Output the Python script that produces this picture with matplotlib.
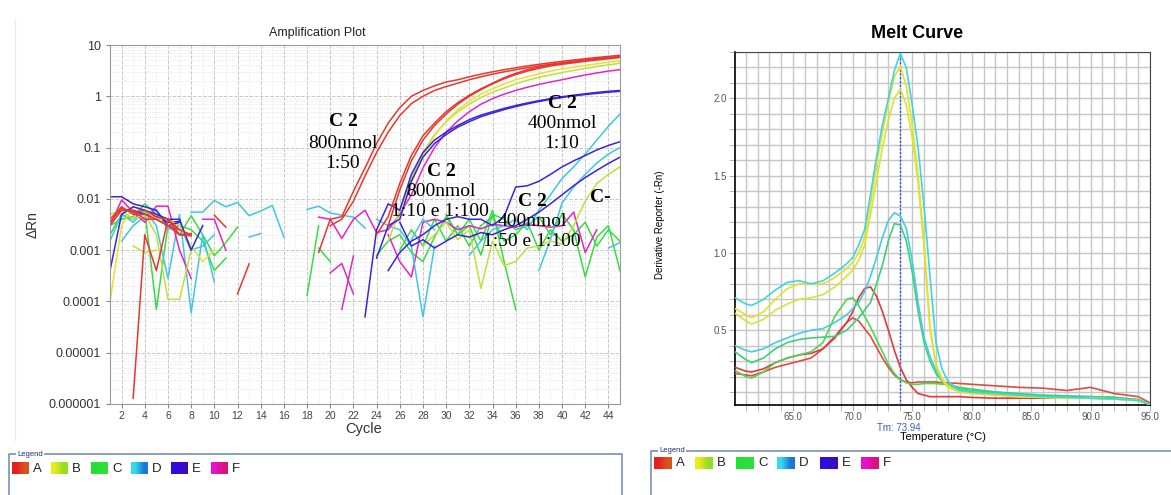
import matplotlib.pyplot as plt
import numpy as np
from matplotlib.colors import to_rgb
from matplotlib.ticker import MultipleLocator, LogLocator, NullFormatter

plt.rcParams['font.family'] = ['Liberation Sans', 'DejaVu Sans']

# ---------------- Amplification plot: delta Rn per cycle ----------------
# cycles that are missing from a trace had no positive value (gap in the log plot)
cycles = np.arange(1, 46)

red_a = {1: .004, 2: .007, 3: .005, 4: .005, 5: .004, 6: .003, 7: .0025, 8: .002,
         10: .0048, 11: .0028,
         19: .0009, 20: .004, 21: .0045, 22: .014, 23: .04, 24: .12, 25: .3, 26: .6,
         27: 1.0, 28: 1.3, 29: 1.6, 30: 1.9, 31: 2.1, 32: 2.4, 33: 2.7, 34: 3.0, 35: 3.3,
         36: 3.6, 37: 3.9, 38: 4.2, 39: 4.5, 40: 4.8, 41: 5.1, 42: 5.4, 43: 5.7, 44: 6.0, 45: 6.3}
red_b = {1: .003, 2: .006, 3: .006, 4: .004, 5: .004, 6: .003, 7: .002, 8: .0021,
         12: .00014, 13: .00054,
         20: .003, 21: .004, 22: .009, 23: .028, 24: .08, 25: .2, 26: .42, 27: .72,
         28: 1.0, 29: 1.3, 30: 1.55, 31: 1.8, 32: 2.1, 33: 2.4, 34: 2.7, 35: 3.0, 36: 3.3,
         37: 3.6, 38: 3.9, 39: 4.2, 40: 4.5, 41: 4.8, 42: 5.1, 43: 5.4, 44: 5.7, 45: 6.0}
red_c = {3: .0000013, 4: .002, 5: .0004, 6: .004, 7: .002, 8: .0019,
         24: .002, 25: .0045, 26: .02, 27: .07, 28: .17, 29: .3, 30: .5, 31: .75,
         32: 1.05, 33: 1.4, 34: 1.8, 35: 2.3, 36: 2.8, 37: 3.3, 38: 3.7, 39: 4.1,
         40: 4.4, 41: 4.7, 42: 5.0, 43: 5.3, 44: 5.6, 45: 5.9}
red_d = {1: .0035, 2: .0065, 3: .0055, 4: .006, 5: .0045, 6: .004, 7: .0025,
         25: .003, 26: .015, 27: .055, 28: .14, 29: .27, 30: .45, 31: .7, 32: 1.0,
         33: 1.35, 34: 1.75, 35: 2.2, 36: 2.65, 37: 3.1, 38: 3.5, 39: 3.9, 40: 4.2,
         41: 4.5, 42: 4.8, 43: 5.1, 44: 5.4, 45: 5.7}

yel_a = {1: .0001, 2: .003, 3: .007, 4: .006, 5: .004, 6: .004, 7: .003, 8: .0012, 9: .0006, 10: .001,
         26: .004, 27: .02, 28: .07, 29: .17, 30: .33, 31: .55, 32: .8, 33: 1.1, 34: 1.4,
         35: 1.75, 36: 2.1, 37: 2.4, 38: 2.75, 39: 3.1, 40: 3.4, 41: 3.7, 42: 4.0,
         43: 4.3, 44: 4.6, 45: 4.9}
yel_b = {1: .005, 2: .006, 3: .004, 4: .005, 5: .002, 6: .00011, 7: .00011, 8: .001,
         25: .0015, 26: .006, 27: .025, 28: .08, 29: .18, 30: .32, 31: .5, 32: .7,
         33: .95, 34: 1.2, 35: 1.45, 36: 1.75, 37: 2.05, 38: 2.35, 39: 2.6, 40: 2.9,
         41: 3.2, 42: 3.5, 43: 3.8, 44: 4.1, 45: 4.4}
lime_neg = {3: .0012, 4: .0009, 5: .001,
            28: .0012, 29: .002, 30: .0035, 31: .0016, 32: .0025, 33: .00018, 34: .0015,
            35: .0005, 36: .0006, 37: .0011, 38: .0012, 39: .0015, 40: .0013, 41: .003,
            42: .009, 43: .02, 44: .03, 45: .042}

grn_a = {1: .002, 2: .005, 3: .004, 4: .006, 5: .00007, 6: .003, 7: .002, 8: .0047,
         9: .002, 10: .00078, 11: .0014, 12: .0028,
         18: .00013, 19: .003,
         24: .0008, 25: .0015, 26: .002, 27: .0009, 28: .0006, 29: .0018, 30: .0045,
         31: .002, 32: .004, 33: .0015, 34: .006, 35: .0006, 36: .00007}
grn_b = {1: .003, 2: .004, 3: .0045, 4: .008, 5: .005, 6: .004, 7: .003, 8: .0025,
         9: .0015, 10: .0004, 11: .0007,
         19: .0011, 20: .0006,
         30: .005, 31: .002, 32: .003, 33: .0008, 34: .005, 35: .004, 36: .0025, 37: .003,
         38: .0045, 39: .002, 40: .005, 41: .0025, 42: .0003, 43: .0018, 44: .003, 45: .0004}
grn_c = {26: .001, 27: .0025, 28: .0012, 29: .004, 30: .0015, 31: .003, 32: .0012,
         33: .003, 34: .0045, 35: .0015, 36: .002, 37: .0035, 38: .001, 39: .0025,
         40: .0015, 41: .002, 42: .0035, 43: .0012, 44: .0025, 45: .0015}

cyn_a = {8: .0055, 9: .0055, 10: .0093, 11: .007, 12: .0085, 13: .0047, 14: .0058,
         15: .0074, 16: .0018,
         18: .0062, 19: .0072, 20: .0053, 21: .0048, 22: .0044, 23: .0027,
         44: .0011, 45: .0014}
cyn_b = {1: .0015, 2: .005, 3: .0035, 4: .006, 5: .003, 6: .00028, 7: .005, 8: .00006,
         9: .002, 10: .00024,
         13: .0018, 14: .0021,
         24: .004, 25: .003, 26: .0025, 27: .0012, 28: .00005, 29: .0012,
         38: .0004, 39: .0016, 40: .0083, 41: .017, 42: .03, 43: .05, 44: .075, 45: .1}
cyn_c = {2: .0015, 3: .003, 4: .0045, 5: .006, 6: .0025, 7: .003, 8: .001, 9: .0012, 10: .002,
         27: .0016, 28: .004, 29: .0025,
         32: .0008, 33: .0015, 34: .0025, 35: .003, 36: .004, 37: .0025, 38: .006,
         39: .012, 40: .025, 41: .042, 42: .075, 43: .14, 44: .26, 45: .45}

blu_a = {1: .011, 2: .011, 3: .008, 4: .007, 5: .006, 6: .003, 7: .0035,
         23: .00005, 24: .0025, 25: .008, 26: .006, 27: .03, 28: .08, 29: .14, 30: .2,
         31: .27, 32: .35, 33: .43, 34: .5, 35: .58, 36: .66, 37: .74, 38: .82, 39: .9,
         40: .98, 41: 1.05, 42: 1.12, 43: 1.19, 44: 1.25, 45: 1.3}
blu_b = {1: .0004, 2: .005, 3: .007, 4: .006, 5: .005, 6: .004, 7: .004, 8: .001, 9: .003,
         24: .0007, 25: .003, 26: .004, 27: .022, 28: .065, 29: .12, 30: .18, 31: .25,
         32: .32, 33: .4, 34: .47, 35: .55, 36: .63, 37: .71, 38: .79, 39: .87, 40: .95,
         41: 1.02, 42: 1.08, 43: 1.14, 44: 1.2, 45: 1.25}
blu_c = {25: .0004, 26: .0009, 27: .0015, 28: .002, 29: .003, 30: .004, 31: .0045,
         32: .004, 33: .004, 34: .003, 35: .0045, 36: .017, 37: .018, 38: .022, 39: .03,
         40: .042, 41: .055, 42: .07, 43: .09, 44: .11, 45: .13}
blu_d = {3: .006, 4: .005, 5: .0045, 6: .0035, 7: .0036,
         26: .0035, 27: .0012, 28: .0016, 29: .0011, 30: .0015, 31: .002, 32: .0018,
         33: .0022, 34: .002, 35: .0025, 36: .003, 37: .004, 38: .0055, 39: .008,
         40: .012, 41: .018, 42: .026, 43: .036, 44: .049, 45: .065}

mag_a = {1: .003, 2: .0095, 3: .0055, 4: .0035, 5: .0072, 6: .0072, 7: .001, 8: .00028,
         19: .0044, 20: .004, 21: .0017, 22: .004, 23: .006, 24: .0022, 25: .0025,
         26: .005, 27: .012, 28: .04, 29: .1, 30: .2, 31: .33, 32: .5, 33: .7, 34: .9,
         35: 1.1, 36: 1.3, 37: 1.5, 38: 1.7, 39: 1.9, 40: 2.1, 41: 2.35, 42: 2.6,
         43: 2.85, 44: 3.1, 45: 3.3}
mag_b = {9: .004, 10: .004, 11: .001,
         20: .00036, 21: .00055, 22: .00014,
         25: .002, 26: .0006, 27: .0003, 28: .0035, 29: .004, 30: .0035, 31: .0025,
         32: .003, 33: .0026, 34: .0032, 35: .003, 36: .0028, 37: .0032, 38: .003,
         39: .0028, 40: .003, 41: .0055, 42: .0009, 43: .0025}
mag_c = {21: .00007, 22: .00077}

amp_colors = {'red': '#e8362c', 'yellow': '#e6e22c', 'lime': '#bfe03a', 'green': '#36dc42',
              'cyan': '#40c6e4', 'blue': '#3a24d8', 'magenta': '#e424c4'}
amp_traces = [
    (grn_c, 'green'), (grn_b, 'green'), (grn_a, 'green'),
    (mag_c, 'magenta'), (mag_b, 'magenta'),
    (cyn_a, 'cyan'), (cyn_b, 'cyan'), (cyn_c, 'cyan'),
    (lime_neg, 'lime'),
    (blu_d, 'blue'), (blu_c, 'blue'),
    (mag_a, 'magenta'),
    (yel_b, 'lime'), (yel_a, 'yellow'),
    (blu_b, 'blue'), (blu_a, 'blue'),
    (red_d, 'red'), (red_c, 'red'), (red_b, 'red'), (red_a, 'red'),
]
amp_ytick_labels = ['0.000001', '0.00001', '0.0001', '0.001', '0.01', '0.1', '1', '10']

# ---------------- Melt curve: derivative reporter vs temperature ----------------
melt_temp = [60.1, 61, 61.5, 62.5, 63.5, 64.5, 65.5, 66.5, 67.5, 68.5,
             69.5, 70, 70.5, 71, 71.5, 72, 72.5, 73, 73.5, 74,
             74.5, 75, 75.5, 76, 76.5, 77, 77.5, 78, 79, 80,
             82, 84, 86, 88, 90, 92, 94, 95]
melt_d_high = [0.71, 0.67, 0.66, 0.70, 0.76, 0.81, 0.82, 0.80, 0.82, 0.87,
               0.93, 0.97, 1.05, 1.15, 1.38, 1.62, 1.83, 2.00, 2.18, 2.29,
               2.20, 1.96, 1.68, 1.30, 0.85, 0.42, 0.25, 0.17, 0.11, 0.10,
               0.09, 0.08, 0.07, 0.065, 0.06, 0.055, 0.045, 0.02]
melt_b_high = [0.64, 0.60, 0.58, 0.62, 0.70, 0.77, 0.80, 0.80, 0.80, 0.84,
               0.90, 0.94, 1.00, 1.10, 1.32, 1.56, 1.78, 1.97, 2.14, 2.21,
               2.08, 1.83, 1.50, 1.08, 0.52, 0.28, 0.19, 0.14, 0.10, 0.09,
               0.08, 0.07, 0.065, 0.06, 0.06, 0.055, 0.045, 0.02]
melt_b_low = [0.61, 0.56, 0.54, 0.57, 0.63, 0.67, 0.70, 0.71, 0.73, 0.78,
              0.85, 0.89, 0.95, 1.05, 1.25, 1.47, 1.68, 1.86, 2.00, 2.06,
              1.96, 1.75, 1.45, 1.03, 0.50, 0.27, 0.18, 0.13, 0.10, 0.09,
              0.08, 0.07, 0.065, 0.06, 0.06, 0.055, 0.045, 0.02]
melt_d_mid = [0.40, 0.37, 0.36, 0.38, 0.42, 0.45, 0.48, 0.50, 0.51, 0.55,
              0.60, 0.64, 0.68, 0.75, 0.85, 0.97, 1.10, 1.21, 1.26, 1.24,
              1.16, 0.95, 0.68, 0.45, 0.33, 0.24, 0.18, 0.14, 0.11, 0.10,
              0.09, 0.08, 0.07, 0.06, 0.06, 0.055, 0.045, 0.02]
melt_c_mid = [0.36, 0.31, 0.29, 0.32, 0.38, 0.42, 0.44, 0.45, 0.455, 0.46,
              0.50, 0.54, 0.58, 0.63, 0.68, 0.80, 0.92, 1.08, 1.19, 1.18,
              1.08, 0.88, 0.62, 0.42, 0.30, 0.22, 0.17, 0.14, 0.12, 0.11,
              0.10, 0.09, 0.08, 0.075, 0.07, 0.065, 0.05, 0.02]
melt_c_low = [0.24, 0.20, 0.19, 0.23, 0.29, 0.32, 0.34, 0.36, 0.42, 0.59,
              0.70, 0.71, 0.66, 0.59, 0.52, 0.44, 0.36, 0.28, 0.22, 0.18,
              0.16, 0.15, 0.15, 0.155, 0.155, 0.155, 0.15, 0.15, 0.13, 0.12,
              0.10, 0.08, 0.075, 0.07, 0.07, 0.065, 0.05, 0.02]
melt_a_high = [0.26, 0.235, 0.23, 0.25, 0.29, 0.32, 0.34, 0.35, 0.38, 0.45,
               0.55, 0.62, 0.71, 0.77, 0.78, 0.72, 0.62, 0.50, 0.37, 0.26,
               0.18, 0.13, 0.09, 0.08, 0.07, 0.07, 0.07, 0.07, 0.07, 0.065,
               0.06, 0.06, 0.06, 0.06, 0.065, 0.06, 0.05, 0.02]
melt_a_low = [0.22, 0.21, 0.205, 0.23, 0.26, 0.28, 0.30, 0.32, 0.38, 0.46,
              0.55, 0.58, 0.56, 0.51, 0.46, 0.39, 0.32, 0.26, 0.21, 0.18,
              0.165, 0.16, 0.165, 0.165, 0.165, 0.165, 0.16, 0.16, 0.155, 0.15,
              0.14, 0.13, 0.125, 0.11, 0.13, 0.09, 0.07, 0.03]
melt_traces = [(melt_a_low, '#e04a44'), (melt_a_high, '#e0383c'),
               (melt_c_low, '#4cd84c'), (melt_c_mid, '#3ccf7c'),
               (melt_d_mid, '#44cce0'), (melt_b_low, '#d4e43a'),
               (melt_b_high, '#e6e02a'), (melt_d_high, '#3ed4e4')]
tm_value = 73.94

legend_labels = ['A', 'B', 'C', 'D', 'E', 'F']
legend_grads = [('#e81e1e', '#d8541e'), ('#eaea20', '#8ee020'), ('#22e03a', '#2ee03a'),
                ('#34dae8', '#1c78d8'), ('#2a10e0', '#3a0cc0'), ('#e412d0', '#dc1080')]

W, H = 1171, 495
fig = plt.figure(figsize=(W / 100, H / 100), dpi=100)

# ---- amplification axes ----
ax1 = fig.add_axes([110 / W, 1 - 404 / H, 510 / W, 359 / H])
for trace, cname in amp_traces:
    dRn = np.array([trace.get(c, np.nan) for c in cycles])
    ax1.plot(cycles, dRn, color=amp_colors[cname], lw=1.1)
ax1.set_yscale('log')
ax1.set_ylim(1e-6, 10)
ax1.set_xlim(1, 45)
ax1.set_xticks(range(2, 45, 2))
ax1.xaxis.set_minor_locator(MultipleLocator(1))
ax1.set_yticks(10.0 ** np.arange(-6, 2))
ax1.set_yticklabels(amp_ytick_labels)
ax1.yaxis.set_minor_locator(LogLocator(base=10, subs=np.arange(2, 10)))
ax1.yaxis.set_minor_formatter(NullFormatter())
ax1.grid(which='major', color='#c8c8c8', ls='--', lw=0.7)
ax1.grid(which='minor', color='#dedede', ls=':', lw=0.6)
ax1.set_axisbelow(True)
ax1.tick_params(which='minor', length=0)
ax1.tick_params(axis='y', which='major', length=3, labelsize=9, labelcolor='#333333', color='#888888')
ax1.tick_params(axis='x', which='major', length=3, pad=2, labelsize=7.5, labelcolor='#444444',
                color='#888888')
for s in ax1.spines.values():
    s.set_color('#9a9a9a')

# ---- melt curve axes ----
ax2 = fig.add_axes([735 / W, 1 - 405 / H, 415 / W, 353 / H])
ax2.axvline(tm_value, color='#3050d8', ls=(0, (1.5, 1.2)), lw=1.0, zorder=3)
for vals, col in melt_traces:
    ax2.plot(melt_temp, vals, color=col, lw=1.2, zorder=4)
ax2.set_xlim(60.1, 95)
ax2.set_ylim(0.016, 2.3)
ax2.set_xticks(np.arange(65, 96, 5))
ax2.set_xticklabels([f'{t:.1f}' for t in np.arange(65, 96, 5)])
ax2.xaxis.set_minor_locator(MultipleLocator(1))
ax2.set_yticks([0.5, 1.0, 1.5, 2.0])
ax2.yaxis.set_minor_locator(MultipleLocator(0.1))
ax2.grid(which='both', color='#c6c6c6', lw=1.0)
ax2.set_axisbelow(True)
ax2.tick_params(which='both', length=4.5, color='#b0b0b0', labelsize=7, labelcolor='#555555')
ax2.tick_params(axis='x', pad=0.5)
ax2.tick_params(axis='y', pad=1.5)
for side in ('left', 'bottom'):
    ax2.spines[side].set_color('black')
    ax2.spines[side].set_linewidth(1.2)
for side in ('top', 'right'):
    ax2.spines[side].set_color('#444444')

# ---- figure-level overlay in pixel coordinates ----
ov = fig.add_axes([0, 0, 1, 1])
ov.patch.set_alpha(0)

ov.plot([15, 15], [18, 440], color='#ececec', lw=1)
ov.text(317, 33, 'Amplification Plot', ha='center', va='center', fontsize=9, color='#222222')
ov.text(364, 429, 'Cycle', ha='center', va='center', fontsize=10.5, color='#333333')
ov.text(33, 225, 'ΔRn', ha='center', va='center', rotation=90, fontsize=10, color='#333333')
ov.text(917, 34, 'Melt Curve', ha='center', va='center', fontsize=13, fontweight='bold')
ov.text(660, 225, 'Derivative Reporter (-Rn)', ha='center', va='center', rotation=90, fontsize=7)
ov.text(943, 437, 'Temperature (°C)', ha='center', va='center', fontsize=8)
ov.text(899, 428, 'Tm: 73.94', ha='center', va='center', fontsize=7, color='#3a5ad0')

# primer / dilution notes on the amplification plot
serif = dict(family=['Liberation Serif', 'DejaVu Serif'], ha='center', va='center', fontsize=14)
notes = [(343, 122, 'C 2', 'bold'), (343, 143, '800nmol', 'normal'), (343, 163, '1:50', 'normal'),
         (441, 172, 'C 2', 'bold'), (441, 192, '800nmol', 'normal'), (440, 212, '1:10 e 1:100', 'normal'),
         (562, 104, 'C 2', 'bold'), (562, 124, '400nmol', 'normal'), (562, 143, '1:10', 'normal'),
         (532, 202, 'C 2', 'bold'), (532, 221, '400nmol', 'normal'), (532, 242, '1:50 e 1:100', 'normal'),
         (600, 197, 'C-', 'bold')]
for x, y, s, w in notes:
    ov.text(x, y, s, fontweight=w, **serif)

# legend boxes
def legend_box(x0, x1, ytop, swatch_x, swatch_y, swatch_w):
    ov.plot([x0, x0, x1, x1], [H + 5, ytop, ytop, H + 5], color='#6f86a8', lw=1.1)
    ov.text(x0 + 8, ytop, 'Legend', fontsize=5.5, color='#1f2f66', va='center',
            bbox=dict(facecolor='white', edgecolor='none', pad=1))
    for sx, lab, (c0, c1) in zip(swatch_x, legend_labels, legend_grads):
        grad = np.array([[to_rgb(c0), to_rgb(c1)]])
        ov.imshow(grad, extent=[sx, sx + swatch_w, swatch_y + 12, swatch_y],
                  aspect='auto', interpolation='bilinear', zorder=3)
        ov.text(sx + swatch_w + 4, swatch_y + 6.5, lab, fontsize=9.5, va='center', color='#222222')

legend_box(9, 622, 454, [12, 51, 91, 131, 171, 211], 462, 17)
legend_box(651, W + 5, 451, [654, 695, 736, 777, 820, 861], 457, 18)

ov.set_xlim(0, W)
ov.set_ylim(H, 0)
ov.axis('off')

fig.savefig('out.png', dpi=100, facecolor='white')
